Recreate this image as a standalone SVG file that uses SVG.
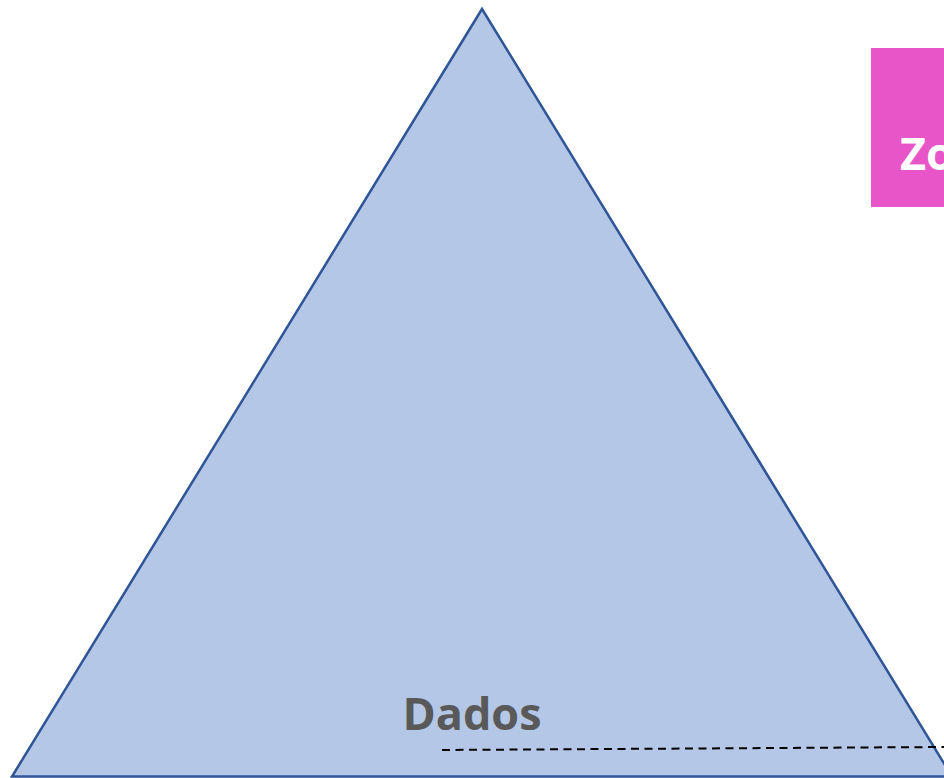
<svg xmlns="http://www.w3.org/2000/svg" width="944" height="778" viewBox="0 0 944 778">
<style>
.lbl{font-family:"Open Sans","Liberation Sans",sans-serif;font-weight:bold;}
</style>
<rect width="944" height="778" fill="#ffffff"/>
<g id="pyramid">
<polygon points="482,9 12,776.5 952,776.5" fill="#B4C7E7" stroke="#2F5597" stroke-width="2.5" stroke-linejoin="miter"/>
<text class="lbl" x="472" y="730" font-size="45" fill="#595959" text-anchor="middle">Dados</text>
</g>
<g id="zone">
<rect x="871" y="48" width="80" height="159" fill="#E855C8"/>
<text class="lbl" x="900" y="170" font-size="45" fill="#ffffff">Zo</text>
</g>
<g id="connectors">
<line x1="442" y1="750" x2="944" y2="747" stroke="#000000" stroke-width="2" stroke-dasharray="8 5.5"/>
</g>
</svg>
